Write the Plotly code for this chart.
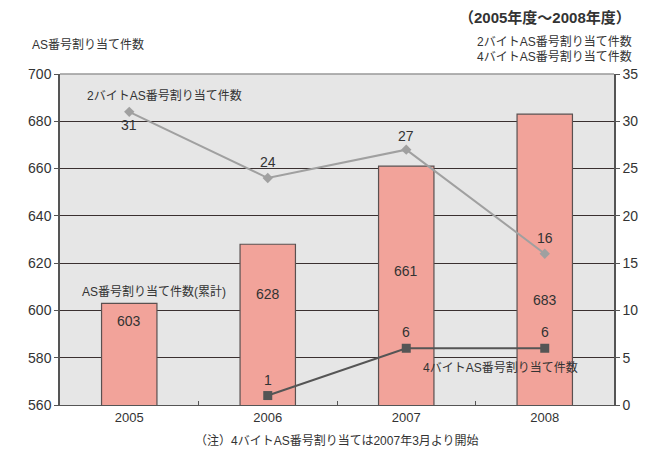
import plotly.graph_objects as go

# AS number assignments, fiscal years 2005-2008
years = ["2005", "2006", "2007", "2008"]
cumulative = [603, 628, 661, 683]          # AS番号割り当て件数(累計)
two_byte = [31, 24, 27, 16]                # 2バイトAS番号割り当て件数
four_byte_years = ["2006", "2007", "2008"]
four_byte = [1, 6, 6]                      # 4バイトAS番号割り当て件数

left_ticks = [560, 580, 600, 620, 640, 660, 680, 700]
right_ticks = [0, 5, 10, 15, 20, 25, 30, 35]

# vertical placement of the value labels printed inside the bars
bar_label_y = [595.5, 607, 616.7, 604.4]

FONT = "Liberation Sans, Arial, Noto Sans CJK JP, sans-serif"
TXT = "#333333"

fig = go.Figure()

fig.add_trace(go.Bar(
    x=years, y=cumulative, width=0.4,
    marker=dict(color="#f2a39a", line=dict(color="#5a5050", width=1.2)),
    hoverinfo="x+y", showlegend=False,
))

fig.add_trace(go.Scatter(
    x=years, y=two_byte, yaxis="y2", mode="lines+markers",
    line=dict(color="#a0a0a0", width=2),
    marker=dict(symbol="diamond", size=8, color="#a0a0a0"),
    showlegend=False,
))

fig.add_trace(go.Scatter(
    x=four_byte_years, y=four_byte, yaxis="y2", mode="lines+markers",
    line=dict(color="#555555", width=2),
    marker=dict(symbol="square", size=9, color="#555555"),
    showlegend=False,
))

ann = []
# category axes place annotations by category index
for yr, v, ly in zip(years, cumulative, bar_label_y):
    ann.append(dict(x=years.index(yr), y=ly, text=str(v), showarrow=False,
                    font=dict(size=14, color=TXT)))

# point labels of the 2-byte series (first one sits below its marker)
two_shift = [-13, 16, 14, 16]
for yr, v, s in zip(years, two_byte, two_shift):
    ann.append(dict(x=years.index(yr), y=v, yref="y2", text=str(v),
                    showarrow=False, yshift=s, font=dict(size=14, color=TXT)))
for yr, v in zip(four_byte_years, four_byte):
    ann.append(dict(x=years.index(yr), y=v, yref="y2", text=str(v),
                    showarrow=False, yshift=16, font=dict(size=14, color=TXT)))

L, R, T, B = 60, 30, 74, 48
W, H = 650, 453
pw, ph = W - L - R, H - T - B


def paper_text(xp, yp, text, size, anchor="left", bold=False):
    return dict(x=(xp - L) / pw, y=1 - (yp - T) / ph, xref="paper", yref="paper",
                text=text, showarrow=False, xanchor=anchor, yanchor="middle",
                font=dict(size=size, color=TXT,
                          weight="bold" if bold else "normal"))


ann += [
    # series captions
    paper_text(85, 95, "2バイトAS番号割り当て件数", 12),
    paper_text(80, 291, "AS番号割り当て件数(累計)", 12),
    paper_text(425, 367, "4バイトAS番号割り当て件数", 12),
    # headings and note
    paper_text(639, 17, "（2005年度～2008年度）", 15, "right", bold=True),
    paper_text(30, 45, "AS番号割り当て件数", 12),
    paper_text(640, 42, "2バイトAS番号割り当て件数", 12, "right"),
    paper_text(640, 56, "4バイトAS番号割り当て件数", 12, "right"),
    paper_text(340, 441, "（注）4バイトAS番号割り当ては2007年3月より開始", 12, "center"),
]

fig.update_layout(
    width=W, height=H,
    margin=dict(l=L, r=R, t=T, b=B, pad=0),
    paper_bgcolor="white", plot_bgcolor="#e6e6e6",
    font=dict(family=FONT, color=TXT, size=13),
    annotations=ann,
    xaxis=dict(
        type="category", categoryorder="array", categoryarray=years,
        range=[-0.5, 3.5], showgrid=False,
        ticks="inside", tickson="boundaries", ticklen=4, tickcolor="#555",
        showline=True, linecolor="#555", linewidth=1,
        tickfont=dict(size=13, color=TXT),
    ),
    yaxis=dict(
        range=[560, 700], tickvals=left_ticks, showgrid=True,
        gridcolor="#3a3030", gridwidth=1, zeroline=False,
        ticks="outside", ticklen=4, tickcolor="#555",
        showline=True, linecolor="#555", linewidth=1.5,
        tickfont=dict(size=14, color=TXT),
    ),
    yaxis2=dict(
        range=[0, 35], tickvals=right_ticks, overlaying="y", side="right",
        showgrid=False, zeroline=False,
        ticks="outside", ticklen=4, tickcolor="#555",
        showline=True, linecolor="#555", linewidth=1.5,
        tickfont=dict(size=14, color=TXT),
    ),
    shapes=[dict(type="line", xref="paper", yref="paper", x0=0, x1=1, y0=1, y1=1,
                 line=dict(color="#999", width=1.5))],
)

fig.write_html("out.html")
